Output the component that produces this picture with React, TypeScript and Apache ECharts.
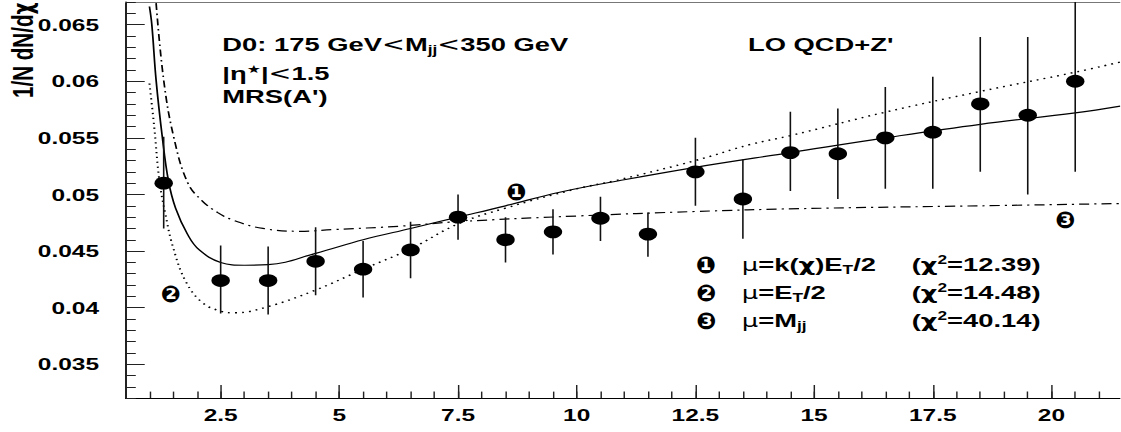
import React, { useEffect, useRef } from "react";
import * as echarts from "echarts";

// Horizontal stretch of the original figure
const S = 1.44;
const W = 1121 / S;
const H = 432;
const FONT = "'Liberation Sans', Arial, Helvetica, sans-serif";
const SYM = "'DejaVu Sans', sans-serif";

// ---- data ----
const chiBins = [1.3, 2.5, 3.5, 4.5, 5.5, 6.5, 7.5, 8.5, 9.5, 10.5, 11.5, 12.5, 13.5, 14.5, 15.5, 16.5, 17.5, 18.5, 19.5, 20.5];
const dataValues = [0.0510, 0.0424, 0.0424, 0.0441, 0.0434, 0.0451, 0.0480, 0.0460, 0.0467, 0.0479, 0.0465, 0.0520, 0.0496, 0.0537, 0.0536, 0.0550, 0.0555, 0.0580, 0.0570, 0.0600];
const errLow = [0.0470, 0.0395, 0.0394, 0.0411, 0.0409, 0.0426, 0.0460, 0.0440, 0.0447, 0.0459, 0.0445, 0.0490, 0.0461, 0.0503, 0.0496, 0.0505, 0.0505, 0.0520, 0.0500, 0.0520];
const errHigh = [0.0551, 0.0455, 0.0454, 0.0471, 0.0459, 0.0476, 0.0500, 0.0480, 0.0487, 0.0498, 0.0484, 0.0550, 0.0531, 0.0573, 0.0576, 0.0595, 0.0604, 0.0639, 0.0639, 0.0680];

// mu = k(chi) E_T/2 (solid)
const curveKx = [1.0, 1.05, 1.14, 1.27, 1.4, 1.55, 1.8, 2.05, 2.5, 3.0, 3.5, 4.5, 5.5, 6.5, 7.5, 8.5, 9.64, 11, 12.5, 14.5, 16.5, 18.5, 20.5, 21.45];
const curveKy = [0.0666, 0.0650, 0.0601, 0.0551, 0.0512, 0.0488, 0.0465, 0.0451, 0.0440, 0.04375, 0.0438, 0.0448, 0.0460, 0.0470, 0.0480, 0.0490, 0.0502, 0.0513, 0.0524, 0.0537, 0.0550, 0.0562, 0.0572, 0.0578];
// mu = E_T/2 (dotted)
const curveEx = [1.0, 1.1, 1.21, 1.33, 1.5, 1.78, 2.13, 2.5, 2.8, 3.5, 4.5, 5.5, 6.5, 7.5, 8.5, 10, 10.84, 12.5, 13.64, 14.5, 16.5, 18.5, 20.5, 21.45];
const curveEy = [0.0598, 0.0560, 0.0512, 0.0484, 0.0453, 0.0422, 0.0404, 0.0397, 0.03955, 0.0401, 0.04156, 0.0434, 0.0452, 0.0474, 0.0488, 0.0505, 0.05125, 0.0530, 0.0544, 0.0552, 0.05727, 0.0591, 0.0608, 0.0617];
// mu = M_jj (dash-dot)
const curveMx = [1.14, 1.3, 1.51, 1.81, 2.12, 2.44, 2.78, 3.39, 4.17, 4.87, 6.27, 7.5, 10, 12.5, 14.7, 18.5, 21.45];
const curveMy = [0.0669, 0.0601, 0.0551, 0.0510, 0.0494, 0.0484, 0.0477, 0.0470, 0.04675, 0.0469, 0.0472, 0.0476, 0.0481, 0.0485, 0.04875, 0.0490, 0.0492];

const xMajorTicks = [2.5, 5, 7.5, 10, 12.5, 15, 17.5, 20];
const yMajorTicks = [0.035, 0.04, 0.045, 0.05, 0.055, 0.06, 0.065];

const zip2 = (a: number[], b: number[]) => a.map((v, i) => [v, b[i]]);

const base = (size: number, family = FONT) => ({
  fontSize: size,
  fontWeight: "bold" as const,
  fontFamily: family,
  fill: "#000",
  color: "#000",
});

function txt(x: number, y: number, text: string, size: number, extra: any = {}, rich?: any, align = "left") {
  const { family, ...rest } = extra;
  return {
    type: "text",
    x,
    y,
    silent: true,
    z: 100,
    ...rest,
    style: {
      text,
      ...base(size, family || FONT),
      align,
      textAlign: align,
      verticalAlign: "middle",
      textVerticalAlign: "middle",
      rich,
    },
  };
}

const LH = 22;
const richDefs = (size: number) => ({
  m: { ...base(size), lineHeight: LH, verticalAlign: "middle" },
  g: { ...base(size - 1, SYM), lineHeight: LH, verticalAlign: "middle" },
  lt: { ...base(size, SYM), fontWeight: "normal", lineHeight: LH, verticalAlign: "middle" },
  mu: { ...base(size - 1, SYM), fontWeight: "normal", lineHeight: LH, verticalAlign: "middle" },
  sub: { ...base(12), verticalAlign: "bottom" },
  sup: { ...base(12), verticalAlign: "top" },
  star: { ...base(11, SYM), verticalAlign: "top" },
});

const digitStyle = { scaleX: 0.72, family: SYM };

export default function App() {
  const ref = useRef<HTMLDivElement>(null);
  useEffect(() => {
    if (!ref.current) return;
    const chart = echarts.init(ref.current, undefined, { renderer: "svg" });
    const tickColor = "#222";
    const rd = richDefs(19);
    const curveCommon = {
      type: "line",
      symbol: "none",
      smooth: 0.4,
      clip: true,
      z: 3,
    };
    const option: any = {
      animation: false,
      backgroundColor: "#fff",
      grid: { left: 87.3, right: 0, top: 2, bottom: 33.7, containLabel: false },
      xAxis: [
        {
          type: "value",
          position: "bottom",
          min: 0.5,
          max: 21.45,
          interval: 0.5,
          axisLine: { show: true, lineStyle: { color: "#000", width: 1.2 } },
          axisTick: { show: true, inside: true, length: 6.7, lineStyle: { color: tickColor, width: 1 } },
          axisLabel: { show: false },
          splitLine: { show: false },
        },
        {
          type: "value",
          position: "bottom",
          min: 0.5,
          max: 21.45,
          axisLine: { show: false },
          axisTick: { show: true, inside: true, length: 13.3, customValues: xMajorTicks, lineStyle: { color: tickColor, width: 1 } },
          axisLabel: {
            show: true,
            customValues: xMajorTicks,
            margin: 8,
            fontSize: 17,
            fontWeight: "bold",
            fontFamily: FONT,
            color: "#000",
          },
          splitLine: { show: false },
        },
        {
          type: "value",
          position: "top",
          min: 0.5,
          max: 21.45,
          axisLine: { show: true, lineStyle: { color: "#777", width: 1 } },
          axisTick: { show: false },
          axisLabel: { show: false },
          splitLine: { show: false },
        },
      ],
      yAxis: [
        {
          type: "value",
          position: "left",
          min: 0.032,
          max: 0.067,
          interval: 0.001,
          axisLine: { show: true, lineStyle: { color: "#000", width: 1.2 } },
          axisTick: { show: true, inside: true, length: 7, lineStyle: { color: tickColor, width: 1 } },
          axisLabel: { show: false },
          splitLine: { show: false },
        },
        {
          type: "value",
          position: "left",
          min: 0.032,
          max: 0.067,
          axisLine: { show: false },
          axisTick: { show: true, inside: true, length: 13.2, customValues: yMajorTicks, lineStyle: { color: tickColor, width: 1 } },
          axisLabel: {
            show: true,
            customValues: yMajorTicks,
            margin: 18.5,
            fontSize: 17,
            fontWeight: "bold",
            fontFamily: FONT,
            color: "#000",
          },
          splitLine: { show: false },
        },
      ],
      series: [
        {
          ...curveCommon,
          name: "mu=k(chi)ET/2",
          data: zip2(curveKx, curveKy),
          lineStyle: { color: "#000", width: 1.2, type: "solid" },
        },
        {
          ...curveCommon,
          name: "mu=ET/2",
          data: zip2(curveEx, curveEy),
          lineStyle: { color: "#000", width: 1.4, type: [1.3, 3.6] },
        },
        {
          ...curveCommon,
          name: "mu=Mjj",
          data: zip2(curveMx, curveMy),
          lineStyle: { color: "#000", width: 1.2, type: [7, 3.5, 1.5, 3.5] },
        },
        {
          type: "custom",
          name: "errors",
          clip: true,
          data: chiBins.map((x, i) => [x, errLow[i], errHigh[i]]),
          encode: { x: 0, y: [1, 2] },
          renderItem: (params: any, api: any) => {
            const p1 = api.coord([api.value(0), api.value(1)]);
            const p2 = api.coord([api.value(0), api.value(2)]);
            return {
              type: "line",
              shape: { x1: p1[0], y1: p1[1], x2: p2[0], y2: p2[1] },
              style: { stroke: "#111", lineWidth: 1.1 },
            };
          },
          z: 4,
        },
        {
          type: "scatter",
          name: "D0",
          data: zip2(chiBins, dataValues),
          symbol: "circle",
          symbolSize: 12.8,
          itemStyle: { color: "#000", opacity: 1 },
          z: 5,
        },
      ],
      graphic: [
        // y-axis title (rotated)
        {
          type: "text",
          x: 15.6,
          y: 98,
          rotation: Math.PI / 2,
          scaleX: 1.03,
          silent: true,
          style: {
            text: "1/N dN/d{g|χ}",
            ...base(20),
            align: "left",
            textAlign: "left",
            verticalAlign: "middle",
            textVerticalAlign: "middle",
            rich: { g: { ...base(18, SYM) } },
          },
        },
        txt(154.4, 45, "{m|D0: 175 GeV}{lt|<}{m|M}{sub|jj}{lt|<}{m|350 GeV}", 19, {}, rd),
        txt(154.4, 74, "{m||η}{star|★}{m||}{lt|<}{m|1.5}", 19, {}, rd),
        txt(154.4, 97, "MRS(A')", 19),
        txt(519.4, 45, "LO QCD+Z'", 19),
        // curve labels on the plot
        txt(358.8, 191.7, "❶", 23, digitStyle, undefined, "center"),
        txt(118.5, 294, "❷", 23, digitStyle, undefined, "center"),
        txt(739.6, 220, "❸", 23, digitStyle, undefined, "center"),
        // legend
        txt(490.3, 265, "❶", 23, digitStyle, undefined, "center"),
        txt(490.3, 293, "❷", 23, digitStyle, undefined, "center"),
        txt(490.3, 321, "❸", 23, digitStyle, undefined, "center"),
        txt(515.1, 265, "{mu|μ}{m|=k(}{g|χ}{m|)E}{sub|T}{m|/2}", 19, {}, rd),
        txt(515.1, 293, "{mu|μ}{m|=E}{sub|T}{m|/2}", 19, {}, rd),
        txt(515.1, 321, "{mu|μ}{m|=M}{sub|jj}", 19, {}, rd),
        txt(633.1, 265, "{m|(}{g|χ}{sup|2}{m|=12.39)}", 19, {}, rd),
        txt(633.1, 293, "{m|(}{g|χ}{sup|2}{m|=14.48)}", 19, {}, rd),
        txt(633.1, 321, "{m|(}{g|χ}{sup|2}{m|=40.14)}", 19, {}, rd),
      ],
    };
    chart.setOption(option);
    return () => chart.dispose();
  }, []);

  return (
    <div style={{ position: "absolute", left: 0, top: 0, width: 1121, height: H, overflow: "hidden", background: "#fff" }}>
      <div
        ref={ref}
        style={{ width: W, height: H, transform: `scaleX(${S})`, transformOrigin: "0 0" }}
      />
    </div>
  );
}
